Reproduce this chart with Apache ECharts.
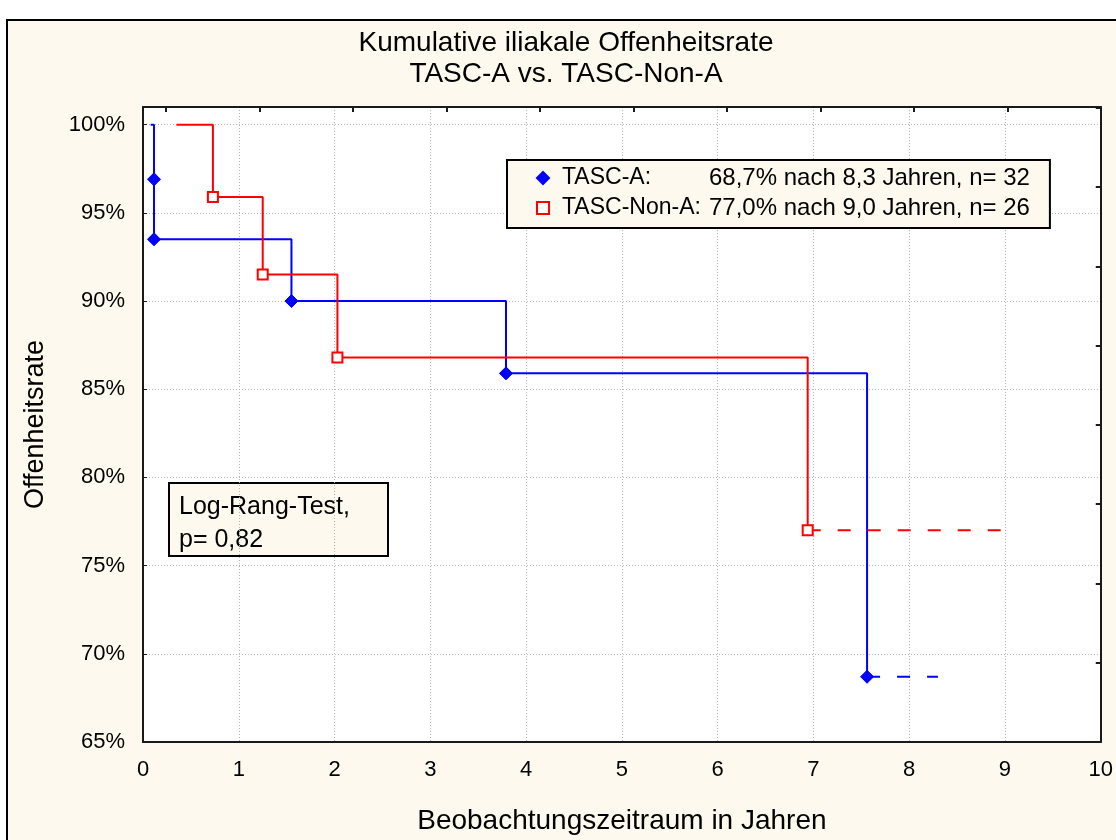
<!DOCTYPE html>
<html>
<head>
<meta charset="utf-8">
<script src="https://cdn.jsdelivr.net/npm/echarts@6/dist/echarts.min.js"></script>
<style>
  html, body { margin: 0; padding: 0; background: #ffffff; }
  #chart { width: 1116px; height: 840px; }
</style>
</head>
<body>
<div id="chart"></div>
<script>
// ---- data ----
var titleLines = ['Kumulative iliakale Offenheitsrate', 'TASC-A vs. TASC-Non-A'];
var xAxisName = 'Beobachtungszeitraum in Jahren';
var yAxisName = 'Offenheitsrate';
var seriesNames = ['TASC-A', 'TASC-Non-A'];
var legendLabels = ['TASC-A:', 'TASC-Non-A:'];
var legendValues = ['68,7% nach 8,3 Jahren, n= 32', '77,0% nach 9,0 Jahren, n= 26'];
var testLines = ['Log-Rang-Test,', 'p= 0,82'];

// step curves [years, percent]
var tascASteps = [[0.08, 100], [0.115, 96.9], [0.115, 93.5], [1.55, 90.0], [3.79, 85.9], [7.56, 68.7]];
var tascAMarks = [[0.115, 96.9], [0.115, 93.5], [1.55, 90.0], [3.79, 85.9], [7.56, 68.7]];
var tascATail = [[7.56, 68.7], [8.3, 68.7]];

var tascNSteps = [[0.35, 100], [0.73, 95.9], [1.25, 91.5], [2.03, 86.8], [6.94, 77.0]];
var tascNMarks = [[0.73, 95.9], [1.25, 91.5], [2.03, 86.8], [6.94, 77.0]];
var tascNTail = [[6.94, 77.0], [9.0, 77.0]];

var xMin = 0, xMax = 10, xInterval = 1;
var yMin = 65, yMax = 101, yInterval = 5;

// ---- chart ----
var FONT = '"Liberation Sans", Arial, sans-serif';
var CREAM = '#fdf9ee';
var BLUE = '#0000ff';
var RED = '#ff0000';
var chart = echarts.init(document.getElementById('chart'), null, { renderer: 'canvas' });

var option = {
  animation: false,
  backgroundColor: '#ffffff',
  textStyle: { fontFamily: FONT, color: '#000' },
  title: {
    text: titleLines.join('\n'),
    left: 566,
    textAlign: 'center',
    top: 28,
    padding: 0,
    textStyle: { fontFamily: FONT, fontSize: 28, fontWeight: 'normal', color: '#000', lineHeight: 31 }
  },
  graphic: [
    {
      type: 'rect', z: -10, silent: true,
      shape: { x: 7, y: 20, width: 1140, height: 850 },
      style: { fill: CREAM, stroke: '#000', lineWidth: 2 }
    },
    {
      type: 'group', left: 168, top: 482, z: 100,
      children: [
        { type: 'rect', shape: { x: 0, y: 0, width: 219, height: 73 },
          style: { fill: CREAM, stroke: '#000', lineWidth: 2 } },
        { type: 'text', x: 10, y: 8,
          style: { text: testLines.join('\n'), font: '25px ' + FONT, fill: '#000', lineHeight: 33 } }
      ]
    }
  ],
  legend: {
    orient: 'vertical',
    left: 507, top: 160,
    padding: [6, 20, 8, 29],
    itemWidth: 12, itemHeight: 12, itemGap: 6,
    backgroundColor: CREAM,
    borderColor: '#000', borderWidth: 2, borderRadius: 0,
    data: [
      { name: seriesNames[0], icon: 'diamond' },
      { name: seriesNames[1], icon: 'rect' }
    ],
    formatter: function (name) {
      var i = seriesNames.indexOf(name);
      return '{a|' + legendLabels[i] + '}{b|' + legendValues[i] + '}';
    },
    textStyle: {
      fontFamily: FONT, fontSize: 24, color: '#000', lineHeight: 24,
      rich: {
        a: { fontFamily: FONT, fontSize: 23, color: '#000', width: 147, padding: [0, 0, 0, 8] },
        b: { fontFamily: FONT, fontSize: 24, color: '#000' }
      }
    }
  },
  grid: { left: 143, right: 11, top: 107, bottom: 92, show: true, backgroundColor: '#ffffff', borderWidth: 0 },
  xAxis: [
    {
      type: 'value', min: xMin, max: xMax, interval: xInterval, position: 'bottom',
      name: xAxisName, nameLocation: 'middle', nameGap: 65,
      nameTextStyle: { fontFamily: FONT, fontSize: 28, color: '#000' },
      axisLine: { show: true, lineStyle: { color: '#1a1a1a', width: 2 } },
      axisTick: { show: false },
      axisLabel: { fontFamily: FONT, fontSize: 22, color: '#000', margin: 17 },
      splitLine: { show: true, lineStyle: { color: '#b4b4b4', width: 1, type: [1, 2] } }
    },
    {
      type: 'value', position: 'top', inverse: true, min: 0, max: 10.245, interval: 1,
      axisLine: { show: true, lineStyle: { color: '#1a1a1a', width: 2 } },
      axisTick: { show: true, inside: true, length: 5, lineStyle: { color: '#1a1a1a', width: 2 } },
      axisLabel: { show: false },
      splitLine: { show: false }
    }
  ],
  yAxis: [
    {
      type: 'value', min: yMin, max: yMax, interval: yInterval, position: 'left',
      name: yAxisName, nameLocation: 'middle', nameGap: 94,
      nameTextStyle: { fontFamily: FONT, fontSize: 27, color: '#000' },
      axisLine: { show: true, lineStyle: { color: '#1a1a1a', width: 2 } },
      axisTick: { show: true, inside: true, length: 4, lineStyle: { color: '#1a1a1a', width: 1 } },
      axisLabel: {
        fontFamily: FONT, fontSize: 22, color: '#000', margin: 18,
        formatter: function (v) { return (v % 5 === 0) ? v + '%' : ''; }
      },
      splitLine: { show: true, lineStyle: { color: '#b4b4b4', width: 1, type: [1, 2] } }
    },
    {
      type: 'value', position: 'right', min: 0, max: 8.01, interval: 1,
      axisLine: { show: true, lineStyle: { color: '#1a1a1a', width: 2 } },
      axisTick: { show: true, inside: true, length: 5, lineStyle: { color: '#1a1a1a', width: 2 } },
      axisLabel: { show: false },
      splitLine: { show: false }
    }
  ],
  series: [
    {
      name: seriesNames[0] + ' Kurve', type: 'line', step: 'end', data: tascASteps,
      showSymbol: false, symbol: 'none', z: 3,
      lineStyle: { color: BLUE, width: 2 }, itemStyle: { color: BLUE }
    },
    {
      name: seriesNames[0] + ' Rest', type: 'line', data: tascATail,
      showSymbol: false, symbol: 'none', z: 3,
      lineStyle: { color: BLUE, width: 2, type: [13, 17] }, itemStyle: { color: BLUE }
    },
    {
      name: seriesNames[1] + ' Kurve', type: 'line', step: 'end', data: tascNSteps,
      showSymbol: false, symbol: 'none', z: 3,
      lineStyle: { color: RED, width: 2 }, itemStyle: { color: RED }
    },
    {
      name: seriesNames[1] + ' Rest', type: 'line', data: tascNTail,
      showSymbol: false, symbol: 'none', z: 3,
      lineStyle: { color: RED, width: 2, type: [13, 17] }, itemStyle: { color: RED }
    },
    {
      name: seriesNames[0], type: 'scatter', data: tascAMarks, z: 5,
      symbol: 'diamond', symbolSize: 13,
      itemStyle: { color: BLUE, borderColor: BLUE, borderWidth: 1, opacity: 1 }
    },
    {
      name: seriesNames[1], type: 'scatter', data: tascNMarks, z: 5,
      symbol: 'rect', symbolSize: 10,
      itemStyle: { color: '#ffffff', borderColor: RED, borderWidth: 2, opacity: 1 }
    }
  ]
};
chart.setOption(option);
</script>
</body>
</html>
